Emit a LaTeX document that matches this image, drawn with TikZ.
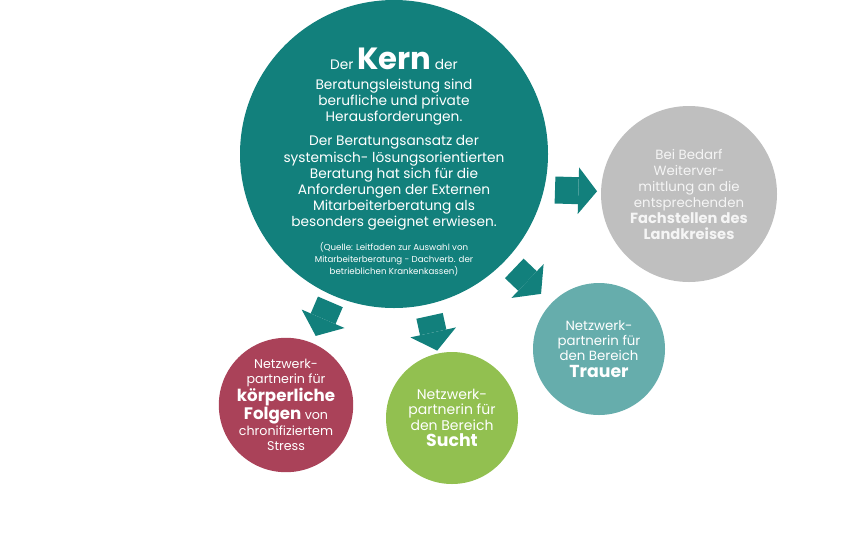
\documentclass[tikz,border=0pt]{standalone}
\usepackage{fontspec}
\setmainfont{Poppins}
\usetikzlibrary{arrows.meta}

\definecolor{kernteal}{RGB}{18,128,124}
\definecolor{fachgray}{RGB}{191,191,191}
\definecolor{koerperred}{RGB}{170,66,89}
\definecolor{suchtgreen}{RGB}{146,192,80}
\definecolor{trauerteal}{RGB}{102,173,172}

\newcommand{\boldword}[2][12.5]{{\bfseries\fontsize{#1}{#1}\selectfont #2}}

\begin{document}
\begin{tikzpicture}[x=0.75pt, y=-0.75pt,
  bubble/.style={circle, inner sep=0pt, outer sep=0pt, text=white, align=center,
    font=\fontsize{9.5}{11.6}\selectfont},
  blockarrow/.style={draw=kernteal, line width=20.25pt,
    -{Triangle[length=14pt, width=35pt, line width=0pt]}}]
\useasboundingbox (0,0) rectangle (849,547);

\node[bubble, fill=kernteal, minimum size=231pt] (kern) at (394,154) {};
\node[bubble, fill=fachgray, minimum size=132pt, text=white!96!black,
  font=\fontsize{10}{12}\selectfont] (fach) at (689,194)
  {Bei Bedarf\\ Weiterver-\\ mittlung an die\\ entsprechenden\\
   \boldword[11]{Fachstellen des}\\ \boldword[11]{Landkreises}};
\node[bubble, fill=koerperred, minimum size=100.5pt] (koerper) at (286,405)
  {Netzwerk-\\ partnerin für\\ \boldword{körperliche}\\ \boldword{Folgen} von\\
   chronifiziertem\\ Stress};
\node[bubble, fill=suchtgreen, minimum size=99pt,
  font=\fontsize{10.5}{11.6}\selectfont] (sucht) at (452,418)
  {Netzwerk-\\ partnerin für\\ den Bereich\\[1pt] \boldword[13]{Sucht}};
\node[bubble, fill=trauerteal, minimum size=99pt,
  font=\fontsize{10}{11.6}\selectfont] (trauer) at (599,349)
  {Netzwerk-\\ partnerin für\\ den Bereich\\[1pt] \boldword[13]{Trauer}};

\node[text=white, align=center, inner sep=0pt, font=\fontsize{10.3}{12.1}\selectfont]
  (kerntext) at ([yshift=-6pt]kern.center)
  {Der \boldword[23]{Kern} der\\[3pt]
   Beratungsleistung sind\\ berufliche und private\\ Herausforderungen.\\[6pt]
   Der Beratungsansatz der\\ systemisch- lösungsorientierten\\
   Beratung hat sich für die\\ Anforderungen der Externen\\
   Mitarbeiterberatung als\\ besonders geeignet erwiesen.\\[6pt]
   {\fontsize{6.5}{8}\selectfont (Quelle: Leitfaden zur Auswahl von}\\[-3.2pt]
   {\fontsize{6.5}{8}\selectfont Mitarbeiterberatung - Dachverb. der}\\[-3.2pt]
   {\fontsize{6.5}{8}\selectfont betrieblichen Krankenkassen)}};

\coordinate (fachtail) at (555,190);
\draw[blockarrow, shorten <=5.25pt, shorten >=6pt] (kern) -- (koerper);
\draw[blockarrow, shorten <=8.8pt, shorten >=2.25pt] (kern) -- (sucht);
\draw[blockarrow, shorten <=9pt, shorten >=10.5pt] (kern) -- (trauer);
\draw[blockarrow, shorten >=3pt] (fachtail) -- (fach);
\end{tikzpicture}
\end{document}
